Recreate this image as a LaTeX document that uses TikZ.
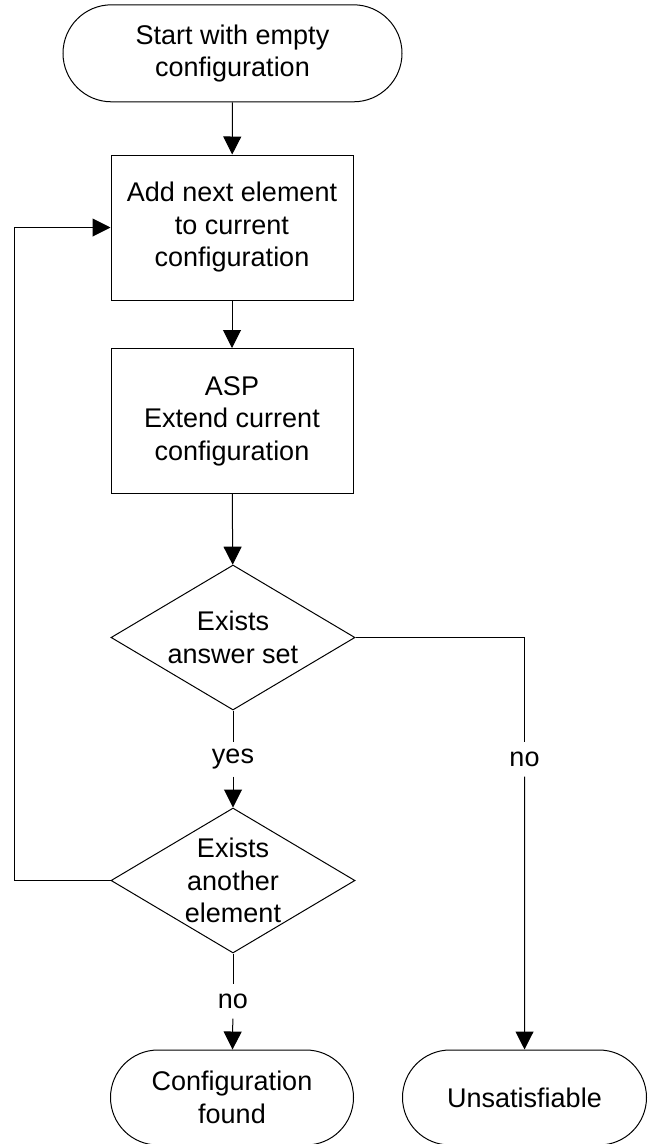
\documentclass[tikz,border=0pt]{standalone}
\usepackage{fontspec}
\setmainfont{Liberation Sans}
\usetikzlibrary{shapes.geometric,shapes.misc,arrows.meta}

\begin{document}
\begin{tikzpicture}[x=1pt,y=-1pt,line width=1pt,
        every node/.style={font=\fontsize{27}{32.5}\selectfont, align=center},
        term/.style={draw, rounded rectangle, minimum width=244pt, minimum height=95pt, inner sep=0pt},
        proc/.style={draw, minimum width=242pt, minimum height=145pt, inner sep=0pt},
        decision/.style={draw, diamond, minimum width=244pt, minimum height=145pt, inner sep=0pt},
        lbl/.style={minimum height=34pt, inner sep=2pt},
        flow/.style={-{Triangle[length=18pt,width=18pt]}}]
        \useasboundingbox (0,0) rectangle (648,1144);
        \node [term, minimum width=339pt, minimum height=97pt] (start) at (232.5,53.3) {Start with empty\\configuration};
        \node [proc] (add) at (232,227.5) {Add next element\\to current\\configuration};
        \node [proc] (asp) at (232,421) {ASP\\Extend current\\configuration};
        \node [decision] (ans) at (233,637.5) {};
        \node (anstxt) at (ans) {Exists\\answer set};
        \node [decision] (more) at (233,880.5) {};
        \node (moretxt) at (more) {Exists\\another\\element};
        \node [term, minimum width=243pt] (found) at (232,1097.5) {Configuration\\found};
        \node [term] (unsat) at (524.5,1097.5) {Unsatisfiable};
        \node [lbl] (yes) at (233,759) {yes};
        \node [lbl] (no1) at (524.5,759) {no};
        \node [lbl] (no2) at (233,1001) {no};
        \coordinate (back) at (14,880.5);
        \draw [flow] (start) -- (add);
        \draw [flow] (add) -- (asp);
        \draw [flow] (asp) -- (ans);
        \draw (ans) -- (yes);
        \draw [flow] (yes) -- (more);
        \draw (ans.east) -| (no1);
        \draw [flow] (no1) -- (unsat);
        \draw (more) -- (no2);
        \draw [flow] (no2) -- (found);
        \draw [flow] (more.west) -- (back) |- (add.west);
\end{tikzpicture}
\end{document}
